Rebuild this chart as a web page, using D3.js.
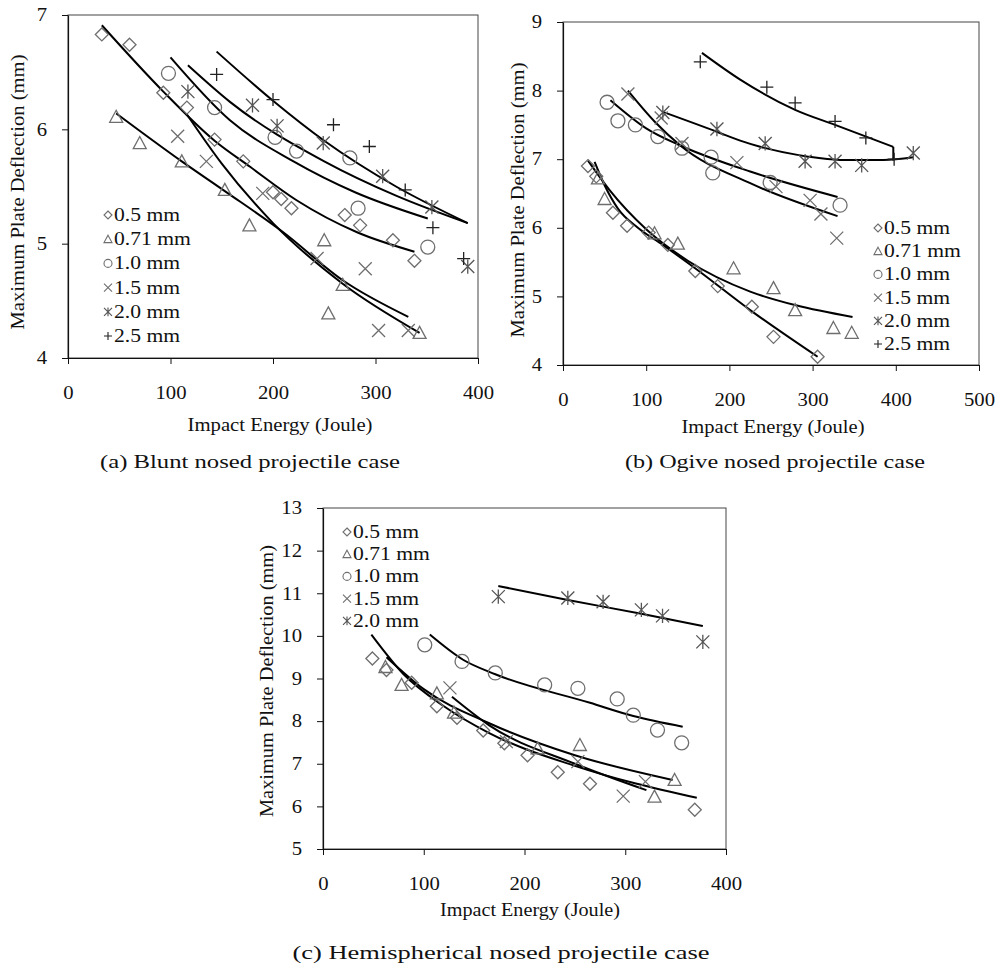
<!DOCTYPE html>
<html>
<head>
<meta charset="utf-8">
<script src="https://cdn.jsdelivr.net/npm/d3@7"></script>
<style>
  body { margin: 0; background: #fff; }
  svg text { font-family: 'Liberation Serif', 'Times New Roman', serif; fill: #111; }
</style>
</head>
<body>
<svg id="fig" width="999" height="969"></svg>
<script>
// ---- shared labels ----
const legendLabels = ['0.5 mm', '0.71 mm', '1.0 mm', '1.5 mm', '2.0 mm', '2.5 mm'];
const symbolKinds = ['diamond', 'triangle', 'circle', 'cross', 'asterisk', 'plus'];

// ---- (a) blunt nosed: [impact energy J, max deflection mm] ----
const bluntXTicks = [0, 100, 200, 300, 400];
const bluntYTicks = [4, 5, 6, 7];
const blunt05 = [[33, 6.83], [60, 6.74], [93, 6.32], [116, 6.19], [143, 5.91], [171, 5.72], [200, 5.45], [208, 5.39], [218, 5.31], [270, 5.25], [285, 5.16], [317, 5.03], [338, 4.85]];
const blunt071 = [[47, 6.11], [70, 5.88], [111, 5.72], [153, 5.47], [177, 5.16], [250, 5.03], [254, 4.39], [268, 4.64], [343, 4.22]];
const blunt10 = [[98, 6.49], [143, 6.19], [202, 5.93], [223, 5.81], [275, 5.75], [283, 5.31], [351, 4.97]];
const blunt15 = [[107, 5.94], [135, 5.72], [190, 5.44], [243, 4.87], [290, 4.78], [303, 4.24], [332, 4.24]];
const blunt20 = [[117, 6.33], [180, 6.21], [204, 6.03], [249, 5.88], [307, 5.59], [355, 5.32], [390, 4.8]];
const blunt25 = [[145, 6.48], [200, 6.26], [259, 6.04], [294, 5.85], [329, 5.47], [356, 5.14], [386, 4.87]];
// trend lines
const bluntFit05 = [[33, 6.91], [93, 6.33], [143, 5.9], [178, 5.67], [223, 5.38], [282, 5.1], [338, 4.93]];
const bluntFit071 = [[47, 6.14], [111, 5.72], [153, 5.46], [210, 5.1], [268, 4.68], [332, 4.36]];
const bluntFit10 = [[100, 6.63], [158, 6.08], [220, 5.72], [280, 5.45], [351, 5.22]];
const bluntFit15 = [[116, 6.13], [150, 5.7], [200, 5.18], [268, 4.65], [343, 4.22]];
const bluntFit20 = [[117, 6.56], [158, 6.24], [250, 5.72], [320, 5.42], [390, 5.18]];
const bluntFit25 = [[145, 6.68], [200, 6.25], [250, 5.9], [320, 5.5], [390, 5.18]];

// ---- (b) ogive nosed ----
const ogiveXTicks = [0, 100, 200, 300, 400, 500];
const ogiveYTicks = [4, 5, 6, 7, 8, 9];
const ogive05 = [[30, 6.9], [40, 6.75], [60, 6.22], [77, 6.03], [103, 5.93], [126, 5.75], [159, 5.37], [186, 5.15], [227, 4.85], [253, 4.41], [306, 4.12]];
const ogive071 = [[42, 6.72], [50, 6.42], [110, 5.92], [138, 5.77], [205, 5.41], [253, 5.12], [279, 4.8], [325, 4.54], [347, 4.47]];
const ogive10 = [[53, 7.83], [66, 7.56], [87, 7.5], [114, 7.33], [143, 7.16], [178, 7.03], [180, 6.8], [249, 6.66], [333, 6.33]];
const ogive15 = [[78, 7.95], [118, 7.6], [143, 7.23], [209, 6.95], [256, 6.6], [297, 6.4], [310, 6.2], [329, 5.85]];
const ogive20 = [[120, 7.68], [185, 7.44], [243, 7.23], [291, 6.97], [327, 6.97], [359, 6.91], [421, 7.09]];
const ogive25 = [[165, 8.42], [245, 8.05], [279, 7.82], [327, 7.55], [364, 7.31], [398, 7.0]];
const ogiveFit05 = [[38, 6.96], [50, 6.62], [66, 6.28], [90, 6.0], [120, 5.75], [160, 5.4], [225, 4.8], [306, 4.12]];
const ogiveFit071 = [[30, 6.98], [56, 6.55], [100, 5.98], [150, 5.52], [225, 5.07], [280, 4.87], [348, 4.7]];
const ogiveFit10 = [[57, 7.86], [100, 7.45], [141, 7.2], [225, 6.82], [330, 6.45]];
const ogiveFit15 = [[78, 8.0], [110, 7.55], [141, 7.2], [225, 6.65], [330, 6.17]];
const ogiveFit20 = [[120, 7.69], [185, 7.4], [213, 7.27], [293, 7.04], [333, 6.99], [385, 6.99], [421, 7.03]];
const ogiveFit25 = [[167, 8.55], [213, 8.16], [279, 7.72], [327, 7.5], [397, 7.18]];
const ogiveTail25 = [[397, 7.18], [397, 6.98]];

// ---- (c) hemispherical nosed ----
const hemiXTicks = [0, 100, 200, 300, 400];
const hemiYTicks = [5, 6, 7, 8, 9, 10, 11, 12, 13];
const hemi05 = [[49, 9.47], [63, 9.2], [88, 8.9], [113, 8.35], [133, 8.08], [159, 7.78], [180, 7.48], [203, 7.2], [233, 6.8], [265, 6.53], [369, 5.92]];
const hemi071 = [[62, 9.27], [78, 8.85], [113, 8.65], [130, 8.2], [213, 7.36], [255, 7.44], [329, 6.23], [349, 6.62]];
const hemi10 = [[101, 9.79], [138, 9.4], [171, 9.13], [220, 8.85], [253, 8.77], [292, 8.52], [308, 8.14], [332, 7.79], [356, 7.49]];
const hemi15 = [[126, 8.78], [182, 7.52], [253, 7.05], [298, 6.24], [320, 6.58]];
const hemi20 = [[174, 10.92], [243, 10.89], [278, 10.8], [316, 10.61], [337, 10.47], [377, 9.86]];
const hemiFit05 = [[48, 10.03], [80, 9.1], [120, 8.35], [165, 7.72], [250, 6.95], [371, 6.2]];
const hemiFit071 = [[63, 9.5], [100, 8.75], [165, 7.95], [250, 7.2], [347, 6.62]];
const hemiFit10 = [[106, 10.03], [139, 9.44], [171, 9.1], [265, 8.43], [308, 8.12], [357, 7.87]];
const hemiFit15 = [[128, 8.57], [165, 7.9], [250, 7.0], [321, 6.38]];
const hemiFit20 = [[174, 11.17], [243, 10.84], [316, 10.52], [377, 10.23]];

const xTitle = 'Impact Energy (Joule)';
const yTitle = 'Maximum Plate Deflection (mm)';

// marker look
const markerColor = { diamond: '#6e6e6e', triangle: '#6e6e6e', circle: '#6e6e6e', cross: '#6e6e6e', asterisk: '#555', plus: '#222' };

function symbolPath(kind, s) {
  const h = s / 2;
  switch (kind) {
    case 'diamond': return `M0,${-h}L${h},0L0,${h}L${-h},0Z`;
    case 'triangle': return `M0,${-h}L${h},${h * 0.85}L${-h},${h * 0.85}Z`;
    case 'circle': return `M${h},0A${h},${h} 0 1,1 ${-h},0A${h},${h} 0 1,1 ${h},0Z`;
    case 'cross': return `M${-h},${-h}L${h},${h}M${-h},${h}L${h},${-h}`;
    case 'asterisk': return `M${-h},${-h}L${h},${h}M${-h},${h}L${h},${-h}M0,${-h * 1.1}L0,${h * 1.1}`;
    default: return `M${-h},0L${h},0M0,${-h}L0,${h}`;
  }
}

const svg = d3.select('#fig');

function stretch(sel, factor) {
  sel.each(function () {
    const w = this.getComputedTextLength();
    d3.select(this).attr('textLength', w * factor).attr('lengthAdjust', 'spacingAndGlyphs');
  });
}

function drawPanel(cfg) {
  const g = svg.append('g');
  const x = d3.scaleLinear().domain(cfg.xDomain).range([cfg.box.l, cfg.box.r]);
  const y = d3.scaleLinear().domain(cfg.yDomain).range([cfg.box.b, cfg.box.t]);

  // plot frame
  g.append('rect')
    .attr('x', cfg.box.l).attr('y', cfg.box.t)
    .attr('width', cfg.box.r - cfg.box.l).attr('height', cfg.box.b - cfg.box.t)
    .attr('fill', '#fff').attr('stroke', '#444').attr('stroke-width', 1);

  // axes
  const xAxis = g.append('g')
    .attr('transform', `translate(0,${cfg.box.b})`)
    .call(d3.axisBottom(x).tickValues(cfg.xTicks).tickSize(6).tickSizeOuter(0).tickPadding(22).tickFormat(d3.format('d')));
  const yAxis = g.append('g')
    .attr('transform', `translate(${cfg.box.l},0)`)
    .call(d3.axisLeft(y).tickValues(cfg.yTicks).tickSize(6).tickSizeOuter(0).tickPadding(15).tickFormat(d3.format('d')));
  [xAxis, yAxis].forEach((a) => {
    a.select('.domain').attr('stroke', '#111').attr('stroke-width', 1.2);
    a.selectAll('.tick line').attr('stroke', '#111');
    a.selectAll('.tick text')
      .attr('font-family', "'Liberation Serif', serif")
      .attr('font-size', 18).attr('fill', '#222');
  });
  stretch(xAxis.selectAll('.tick text'), 1.15);
  stretch(yAxis.selectAll('.tick text'), 1.15);

  // axis titles
  g.append('text')
    .attr('x', cfg.xTitle.x).attr('y', cfg.xTitle.y)
    .attr('text-anchor', 'middle').attr('font-size', 18)
    .attr('textLength', cfg.xTitle.len).attr('lengthAdjust', 'spacingAndGlyphs')
    .text(xTitle);
  g.append('text')
    .attr('transform', `translate(${cfg.yTitle.x},${cfg.yTitle.y}) rotate(-90)`)
    .attr('text-anchor', 'middle').attr('font-size', 18)
    .attr('textLength', cfg.yTitle.len).attr('lengthAdjust', 'spacingAndGlyphs')
    .text(yTitle);

  // trend lines
  const line = d3.line().x((d) => x(d[0])).y((d) => y(d[1])).curve(d3.curveMonotoneX);
  const straight = d3.line().x((d) => x(d[0])).y((d) => y(d[1]));
  cfg.series.forEach((s) => {
    g.append('path').attr('d', line(s.fit))
      .attr('fill', 'none').attr('stroke', '#000').attr('stroke-width', 2);
    if (s.tail) {
      g.append('path').attr('d', straight(s.tail))
        .attr('fill', 'none').attr('stroke', '#000').attr('stroke-width', 2);
    }
  });

  // data markers
  cfg.series.forEach((s) => {
    const sz = s.kind === 'circle' ? 14 : 13;
    g.append('g').selectAll('path')
      .data(s.pts)
      .enter()
      .append('path')
      .attr('transform', (d) => `translate(${x(d[0])},${y(d[1])})`)
      .attr('d', symbolPath(s.kind, sz))
      .attr('fill', 'none')
      .attr('stroke', markerColor[s.kind])
      .attr('stroke-width', 1.3);
  });

  // legend
  const leg = g.append('g').attr('transform', `translate(${cfg.legend.x},${cfg.legend.y})`);
  const items = leg.selectAll('g')
    .data(cfg.series.map((s, i) => ({ kind: s.kind, label: legendLabels[i] })))
    .enter()
    .append('g')
    .attr('transform', (d, i) => `translate(0,${i * cfg.legend.step})`);
  items.append('path')
    .attr('d', (d) => symbolPath(d.kind, 8))
    .attr('fill', 'none').attr('stroke', (d) => markerColor[d.kind]).attr('stroke-width', 1.1);
  const labels = items.append('text')
    .attr('x', 6).attr('y', 6)
    .attr('font-size', 18)
    .text((d) => d.label);
  stretch(labels, 1.2);

  // caption
  svg.append('text')
    .attr('x', cfg.caption.x).attr('y', cfg.caption.y)
    .attr('text-anchor', 'middle').attr('font-size', 19)
    .attr('textLength', cfg.caption.len).attr('lengthAdjust', 'spacingAndGlyphs')
    .text(cfg.caption.text);
}

drawPanel({
  box: { l: 68, r: 478, t: 15, b: 358 },
  xDomain: [0, 400], yDomain: [4, 7],
  xTicks: bluntXTicks, yTicks: bluntYTicks,
  series: [
    { kind: symbolKinds[0], pts: blunt05, fit: bluntFit05 },
    { kind: symbolKinds[1], pts: blunt071, fit: bluntFit071 },
    { kind: symbolKinds[2], pts: blunt10, fit: bluntFit10 },
    { kind: symbolKinds[3], pts: blunt15, fit: bluntFit15 },
    { kind: symbolKinds[4], pts: blunt20, fit: bluntFit20 },
    { kind: symbolKinds[5], pts: blunt25, fit: bluntFit25 }
  ],
  legend: { x: 108, y: 215, step: 24.2 },
  xTitle: { x: 280, y: 431, len: 185 },
  yTitle: { x: 24, y: 192, len: 275 },
  caption: { text: '(a)  Blunt nosed projectile case', x: 250, y: 468, len: 300 }
});

drawPanel({
  box: { l: 563, r: 979, t: 22, b: 365 },
  xDomain: [0, 500], yDomain: [4, 9],
  xTicks: ogiveXTicks, yTicks: ogiveYTicks,
  series: [
    { kind: symbolKinds[0], pts: ogive05, fit: ogiveFit05 },
    { kind: symbolKinds[1], pts: ogive071, fit: ogiveFit071 },
    { kind: symbolKinds[2], pts: ogive10, fit: ogiveFit10 },
    { kind: symbolKinds[3], pts: ogive15, fit: ogiveFit15 },
    { kind: symbolKinds[4], pts: ogive20, fit: ogiveFit20 },
    { kind: symbolKinds[5], pts: ogive25, fit: ogiveFit25, tail: ogiveTail25 }
  ],
  legend: { x: 878, y: 228, step: 23.2 },
  xTitle: { x: 773, y: 433, len: 183 },
  yTitle: { x: 524, y: 200, len: 275 },
  caption: { text: '(b)  Ogive nosed projectile case', x: 775, y: 468, len: 300 }
});

drawPanel({
  box: { l: 323, r: 726, t: 508, b: 849 },
  xDomain: [0, 400], yDomain: [5, 13],
  xTicks: hemiXTicks, yTicks: hemiYTicks,
  series: [
    { kind: symbolKinds[0], pts: hemi05, fit: hemiFit05 },
    { kind: symbolKinds[1], pts: hemi071, fit: hemiFit071 },
    { kind: symbolKinds[2], pts: hemi10, fit: hemiFit10 },
    { kind: symbolKinds[3], pts: hemi15, fit: hemiFit15 },
    { kind: symbolKinds[4], pts: hemi20, fit: hemiFit20 }
  ],
  legend: { x: 347, y: 532, step: 22.2 },
  xTitle: { x: 530, y: 916, len: 180 },
  yTitle: { x: 273, y: 681, len: 272 },
  caption: { text: '(c)  Hemispherical nosed projectile case', x: 501, y: 959, len: 417 }
});
</script>
</body>
</html>
